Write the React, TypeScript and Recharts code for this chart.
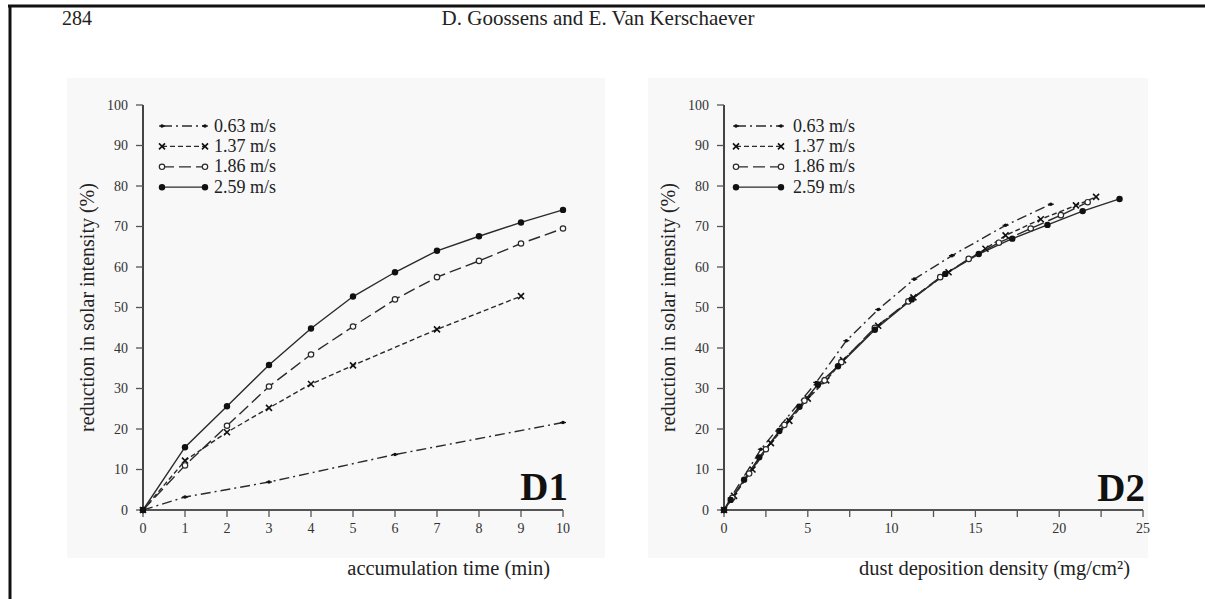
import React from "react";
import { LineChart, Line, XAxis, YAxis, Legend } from "recharts";

// wind speeds used in both panels
const SPEEDS = ["0.63 m/s", "1.37 m/s", "1.86 m/s", "2.59 m/s"];

// panel D1: reduction (%) against accumulation time (min)
const D1_TIME_063 = [0, 1, 3, 6, 10];
const D1_RED_063 = [0, 3.2, 6.9, 13.7, 21.6];
const D1_TIME_137 = [0, 1, 2, 3, 4, 5, 7, 9];
const D1_RED_137 = [0, 12.2, 19.2, 25.2, 31.1, 35.7, 44.6, 52.8];
const D1_TIME_186 = [0, 1, 2, 3, 4, 5, 6, 7, 8, 9, 10];
const D1_RED_186 = [0, 11.0, 20.8, 30.5, 38.4, 45.3, 52.0, 57.5, 61.5, 65.8, 69.5];
const D1_TIME_259 = [0, 1, 2, 3, 4, 5, 6, 7, 8, 9, 10];
const D1_RED_259 = [0, 15.5, 25.6, 35.8, 44.8, 52.7, 58.7, 64.0, 67.6, 71.0, 74.1];

// panel D2: reduction (%) against dust deposition density (mg/cm2)
const D2_DENS_063 = [0, 0.4, 2.2, 5.5, 7.3, 9.2, 11.35, 13.6, 16.8, 19.5];
const D2_RED_063 = [0, 3.0, 15.0, 31.5, 41.8, 49.5, 57.0, 62.8, 70.3, 75.5];
const D2_DENS_137 = [0, 0.6, 1.7, 2.8, 3.9, 5.0, 6.1, 7.1, 9.2, 11.3, 13.4, 15.6, 16.8, 18.9, 21.0, 22.2];
const D2_RED_137 = [0, 3.5, 10.0, 16.5, 22.0, 27.5, 32.0, 37.0, 45.5, 52.5, 58.7, 64.5, 67.8, 71.8, 75.2, 77.3];
const D2_DENS_186 = [0, 0.5, 1.5, 2.5, 3.6, 4.8, 6.0, 7.0, 9.0, 11.0, 12.9, 14.6, 16.4, 18.3, 20.1, 21.7];
const D2_RED_186 = [0, 3.0, 9.0, 15.0, 21.0, 27.0, 32.0, 36.5, 45.0, 51.5, 57.5, 62.0, 66.0, 69.5, 72.8, 76.0];
const D2_DENS_259 = [0, 0.4, 1.2, 2.1, 3.3, 4.5, 5.6, 6.8, 9.0, 11.2, 13.2, 15.2, 17.2, 19.3, 21.4, 23.6];
const D2_RED_259 = [0, 2.5, 7.5, 13.0, 19.5, 25.5, 31.0, 35.5, 44.5, 52.0, 58.3, 63.2, 67.0, 70.4, 73.8, 76.8];

// axis ticks
const Y_TICKS = [0, 10, 20, 30, 40, 50, 60, 70, 80, 90, 100];
const D1_X_TICKS = [0, 1, 2, 3, 4, 5, 6, 7, 8, 9, 10];
const D2_X_TICKS = [0, 2.5, 5, 7.5, 10, 12.5, 15, 17.5, 20, 22.5, 25];

const zip = (xs: number[], ys: number[]) => xs.map((x, i) => ({ x, y: ys[i] }));

const INK = "#2a2a2a";
const FONT = "'Liberation Serif', 'DejaVu Serif', serif";

// line style + marker per wind speed
const STYLES = [
  { dash: "10 4 2 4", marker: "plus" },
  { dash: "5 3", marker: "cross" },
  { dash: "12 5", marker: "open" },
  { dash: undefined, marker: "filled" },
];

function Marker({ shape, cx, cy }: { shape: string; cx: number; cy: number }) {
  if (cx == null || cy == null) return null;
  if (shape === "filled") return <circle cx={cx} cy={cy} r={3.2} fill="#111" />;
  if (shape === "open")
    return <circle cx={cx} cy={cy} r={2.7} fill="#fff" stroke={INK} strokeWidth={1.2} />;
  if (shape === "cross")
    return (
      <path
        d={`M${cx - 3},${cy - 3}L${cx + 3},${cy + 3}M${cx - 3},${cy + 3}L${cx + 3},${cy - 3}`}
        stroke="#111"
        strokeWidth={1.6}
      />
    );
  return (
    <g>
      <circle cx={cx} cy={cy} r={1.8} fill="#111" />
      <path d={`M${cx - 3},${cy}L${cx + 3},${cy}`} stroke="#111" strokeWidth={1.2} />
    </g>
  );
}

const makeDot = (shape: string) => (props: any) => (
  <Marker key={`m-${props.index}`} shape={shape} cx={props.cx} cy={props.cy} />
);

function LegendBox({ x0, x1, tx }: { x0: number; x1: number; tx: number }) {
  return (
    <svg width={150} height={90} style={{ overflow: "visible", display: "block" }}>
      {SPEEDS.map((s, i) => {
        const y = 10 + i * 20.4;
        const st = STYLES[i];
        return (
          <g key={s}>
            <line x1={x0} x2={x1} y1={y} y2={y} stroke={INK} strokeWidth={1.3} strokeDasharray={st.dash} />
            <Marker shape={st.marker} cx={x0} cy={y} />
            <Marker shape={st.marker} cx={x1} cy={y} />
            <text x={tx} y={y + 5.5} fontFamily={FONT} fontSize={18} fill="#222">
              {s}
            </text>
          </g>
        );
      })}
    </svg>
  );
}

const PLOT_TOP = 105;
const PLOT_BOTTOM = 510;
const H = 599;
const AXIS_W = 78;
const X_AXIS_H = 30;

function Panel(props: {
  plotLeft: number;
  plotWidth: number;
  series: { x: number; y: number }[][];
  xTicks: number[];
  xMax: number;
  xTitle: string;
  legendOffsets: { x0: number; x1: number; tx: number };
  hideMinor?: boolean;
}) {
  const { plotLeft, plotWidth, series, xTicks, xMax, xTitle, legendOffsets, hideMinor } = props;
  const width = AXIS_W + plotWidth + 30;
  const tickStyle = { fontFamily: FONT, fontSize: 14, fill: "#333" };
  return (
    <div style={{ position: "absolute", left: plotLeft - AXIS_W, top: 0 }}>
      <LineChart
        width={width}
        height={H}
        margin={{ top: PLOT_TOP, right: 30, bottom: H - PLOT_BOTTOM - X_AXIS_H, left: 0 }}
      >
        <XAxis
          dataKey="x"
          type="number"
          domain={[0, xMax]}
          ticks={xTicks}
          interval={0}
          height={X_AXIS_H}
          tickSize={7}
          tickMargin={6}
          tick={tickStyle}
          tickFormatter={(v: number) => (hideMinor && v % 5 !== 0 ? "" : String(v))}
          axisLine={{ stroke: "#555", strokeWidth: 2 }}
          tickLine={{ stroke: "#555", strokeWidth: 1.3 }}
          label={{
            content: ({ viewBox }: any) => (
              <text
                x={viewBox.x + viewBox.width - 13}
                y={PLOT_BOTTOM + 65}
                textAnchor="end"
                fontFamily={FONT}
                fontSize={20.5}
                fill="#222"
              >
                {xTitle}
              </text>
            ),
          }}
        />
        <YAxis
          type="number"
          domain={[0, 100]}
          ticks={Y_TICKS}
          interval={0}
          width={AXIS_W}
          tickSize={7}
          tickMargin={8}
          tick={tickStyle}
          axisLine={{ stroke: "#444", strokeWidth: 2 }}
          tickLine={{ stroke: "#555", strokeWidth: 1.3 }}
          label={{
            content: ({ viewBox }: any) => {
              const cx = viewBox.x + viewBox.width - 56;
              const cy = viewBox.y + viewBox.height / 2;
              return (
                <text
                  x={cx}
                  y={cy}
                  transform={`rotate(-90 ${cx} ${cy})`}
                  textAnchor="middle"
                  dominantBaseline="central"
                  fontFamily={FONT}
                  fontSize={20}
                  fill="#222"
                >
                  reduction in solar intensity (%)
                </text>
              );
            },
          }}
        />
        <Legend
          layout="horizontal"
          verticalAlign="middle"
          align="center"
          wrapperStyle={{ left: AXIS_W, top: PLOT_TOP + 11, width: 150, height: 90 }}
          content={() => <LegendBox {...legendOffsets} />}
        />
        {series.map((data, i) => (
          <Line
            key={SPEEDS[i]}
            name={SPEEDS[i]}
            data={data}
            dataKey="y"
            type="linear"
            stroke={INK}
            strokeWidth={1.4}
            strokeDasharray={STYLES[i].dash}
            dot={makeDot(STYLES[i].marker)}
            activeDot={false}
            isAnimationActive={false}
          />
        ))}
      </LineChart>
    </div>
  );
}

export default function App() {
  const d1 = [
    zip(D1_TIME_063, D1_RED_063),
    zip(D1_TIME_137, D1_RED_137),
    zip(D1_TIME_186, D1_RED_186),
    zip(D1_TIME_259, D1_RED_259),
  ];
  const d2 = [
    zip(D2_DENS_063, D2_RED_063),
    zip(D2_DENS_137, D2_RED_137),
    zip(D2_DENS_186, D2_RED_186),
    zip(D2_DENS_259, D2_RED_259),
  ];
  return (
    <div style={{ position: "absolute", left: 0, top: 0, width: 1205, height: 599, background: "#fff", overflow: "hidden" }}>
      <svg width={1205} height={599} style={{ position: "absolute", left: 0, top: 0 }}>
        <rect x={67} y={78} width={538} height={480} fill="#f8f8f8" />
        <rect x={648} y={78} width={500} height={480} fill="#f8f8f8" />
        <line x1={8} y1={6} x2={1205} y2={6} stroke="#111" strokeWidth={3} />
        <line x1={10} y1={5} x2={10} y2={599} stroke="#111" strokeWidth={3} />
        <text x={62} y={25} fontFamily={FONT} fontSize={20} fill="#222">284</text>
        <text x={598} y={25} textAnchor="middle" fontFamily={FONT} fontSize={21} fill="#222">
          D. Goossens and E. Van Kerschaever
        </text>
        <text x={568} y={500} textAnchor="end" fontFamily={FONT} fontSize={39} fontWeight="bold" fill="#111">D1</text>
        <text x={1145} y={501} textAnchor="end" fontFamily={FONT} fontSize={39} fontWeight="bold" fill="#111">D2</text>
      </svg>
      <Panel
        plotLeft={143}
        plotWidth={420}
        series={d1}
        xTicks={D1_X_TICKS}
        xMax={10}
        xTitle="accumulation time (min)"
        legendOffsets={{ x0: 19, x1: 62, tx: 71 }}
      />
      <Panel
        plotLeft={724}
        plotWidth={419}
        series={d2}
        xTicks={D2_X_TICKS}
        xMax={25}
        xTitle="dust deposition density (mg/cm²)"
        legendOffsets={{ x0: 12, x1: 57, tx: 69 }}
        hideMinor
      />
    </div>
  );
}
